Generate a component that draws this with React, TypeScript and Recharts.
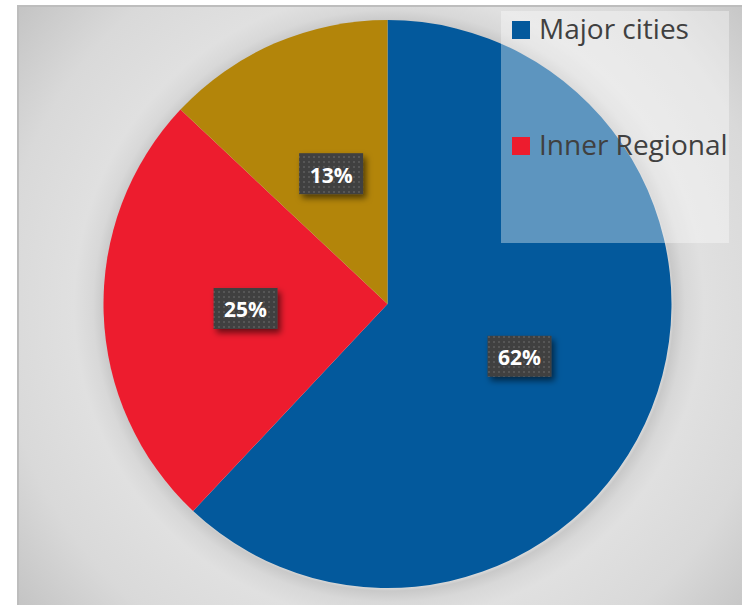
import React from 'react';
import { PieChart, Pie, Cell, Legend } from 'recharts';

const categories = ['Major cities', 'Inner Regional', 'Outer Regional'];
const shares = [62, 25, 13];
const sliceColors = ['#03599C', '#ED1C2E', '#B3850A'];
// the legend box in the original only has room for the first two entries
const legendShown = 2;

const chartData = categories.map((name, i) => ({ name, value: shares[i] }));

const RADIAN = Math.PI / 180;

const renderLabel = (props: any) => {
  const { cx, cy, midAngle, outerRadius, percent } = props;
  const r = outerRadius * 0.5;
  const x = cx + r * Math.cos(-midAngle * RADIAN);
  const y = cy + r * Math.sin(-midAngle * RADIAN);
  return (
    <g>
      <rect x={x - 32} y={y - 20.5} width={64} height={41} fill="url(#dotBox)" filter="url(#boxShadow)" />
      <text
        x={x}
        y={y + 1}
        textAnchor="middle"
        dominantBaseline="central"
        fill="#ffffff"
        fontFamily="'Open Sans', sans-serif"
        fontWeight="bold"
        fontSize={21}
      >
        {`${Math.round(percent * 100)}%`}
      </text>
    </g>
  );
};

const renderLegend = () => (
  <div
    style={{
      width: 228,
      height: 232,
      background: 'rgba(255,255,255,0.36)',
      position: 'relative',
    }}
  >
    {categories.slice(0, legendShown).map((name, i) => (
      <div
        key={`leg-${i}`}
        style={{
          position: 'absolute',
          left: 11,
          top: 10 + i * 116,
          display: 'flex',
          alignItems: 'center',
          height: 18,
          whiteSpace: 'nowrap',
        }}
      >
        <span style={{ width: 18, height: 18, background: sliceColors[i], marginRight: 9, flex: 'none' }} />
        <span
          style={{
            fontFamily: "'Open Sans', sans-serif",
            fontSize: 28,
            color: '#404040',
            lineHeight: '18px',
            position: 'relative',
            top: -2,
          }}
        >
          {name}
        </span>
      </div>
    ))}
  </div>
);

export default function App() {
  return (
    <div
      style={{
        position: 'absolute',
        left: 17,
        top: 5,
        width: 725,
        height: 600,
        boxSizing: 'border-box',
        borderTop: '2px solid #bdbdbd',
        borderLeft: '2px solid #bdbdbd',
        background:
          'radial-gradient(circle at 370px 299px, #e3e3e3 0px, #e3e3e3 280px, #c9c9c9 285px, #d8d8d8 296px, #e0e0e0 315px, #d9d9d9 390px, #c3c3c3 480px)',
        overflow: 'hidden',
      }}
    >
      <svg width={0} height={0} style={{ position: 'absolute' }}>
        <defs>
          <pattern id="dotBox" width={5} height={5} patternUnits="userSpaceOnUse">
            <rect width={5} height={5} fill="#404040" />
            <rect x={1} y={1} width={2} height={2} fill="#575757" />
          </pattern>
          <filter id="boxShadow" x="-30%" y="-30%" width="160%" height="170%">
            <feDropShadow dx={3} dy={4} stdDeviation={3} floodColor="#000" floodOpacity={0.55} />
          </filter>
        </defs>
      </svg>
      <PieChart
        width={723}
        height={598}
        margin={{ top: 0, right: 0, bottom: 0, left: 0 }}
        style={{ position: 'absolute', left: -2, top: -2 }}
      >
        <Pie
          data={chartData}
          dataKey="value"
          nameKey="name"
          cx={370.5}
          cy={299}
          outerRadius={284}
          startAngle={90}
          endAngle={-270}
          stroke="none"
          label={renderLabel}
          labelLine={false}
          isAnimationActive={false}
        >
          {chartData.map((entry, index) => (
            <Cell key={`cell-${index}`} fill={sliceColors[index]} />
          ))}
        </Pie>
        <Legend content={renderLegend} wrapperStyle={{ left: 484, top: 6, width: 228, height: 232 }} />
      </PieChart>
    </div>
  );
}
